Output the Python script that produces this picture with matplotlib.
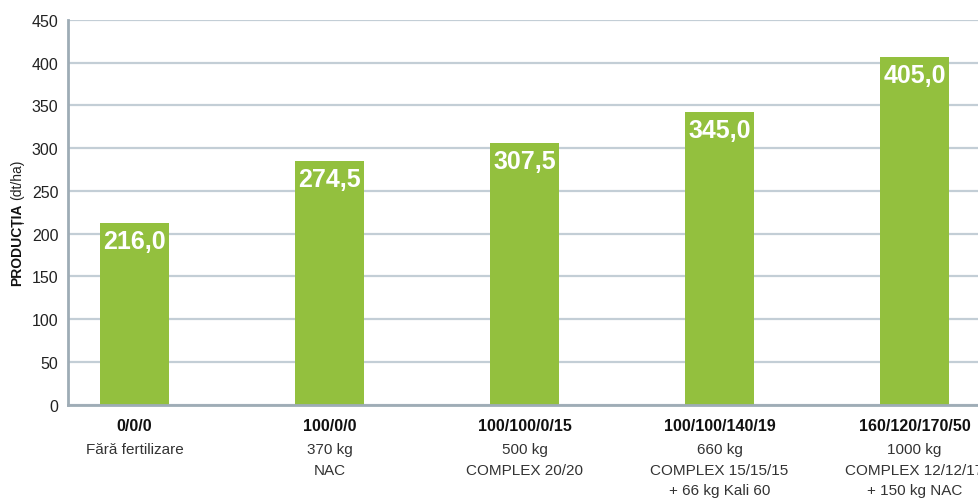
import matplotlib
matplotlib.use('Agg')
from matplotlib import pyplot as plt
from matplotlib import transforms

# data
formulas = ['0/0/0', '100/0/0', '100/100/0/15', '100/100/140/19', '160/120/170/50']
details = ['Fără fertilizare',
           '370 kg\nNAC',
           '500 kg\nCOMPLEX 20/20',
           '660 kg\nCOMPLEX 15/15/15\n+ 66 kg Kali 60',
           '1000 kg\nCOMPLEX 12/12/17\n+ 150 kg NAC']
heights = [212.5, 285.0, 306.0, 342.0, 406.5]   # bar tops as drawn
labels = ['216,0', '274,5', '307,5', '345,0', '405,0']  # printed values
yticks = [0, 50, 100, 150, 200, 250, 300, 350, 400, 450]

green = '#93c03e'
grid_col = '#c3ced6'
axis_col = '#9eacb6'

plt.rcParams['font.family'] = ['Liberation Sans', 'DejaVu Sans']

fig = plt.figure(figsize=(9.79, 5.02), dpi=100)
ax = fig.add_axes([0.0695, 0.1918, 0.9305, 0.7664])

x = list(range(len(heights)))
ax.bar(x, heights, width=0.354, color=green, zorder=3)

ax.set_xlim(-0.341, 4.331)
ax.set_ylim(0, 450)
ax.set_yticks(yticks)
ax.set_yticklabels([str(t) for t in yticks], fontsize=11.5, color='#222222')
ax.tick_params(axis='y', length=0, pad=7)
ax.set_xticks([])
ax.yaxis.grid(True, color=grid_col, linewidth=1.6, zorder=0)
ax.set_axisbelow(True)

for s in ['top', 'right']:
    ax.spines[s].set_visible(False)
ax.spines['left'].set_color(axis_col)
ax.spines['left'].set_linewidth(2)
ax.spines['bottom'].set_color(axis_col)
ax.spines['bottom'].set_linewidth(2)
ax.spines['bottom'].set_zorder(4)

# value labels inside the bars
for xi, h, lab in zip(x, heights, labels):
    ax.annotate(lab, (xi, h), xytext=(0, -4), textcoords='offset points',
                ha='center', va='top', color='white', fontsize=18,
                fontweight='bold', zorder=5)

# category labels below the axis
trans = transforms.blended_transform_factory(ax.transData, ax.transAxes)
for xi, f, d in zip(x, formulas, details):
    ax.text(xi, -0.035, f, transform=trans, ha='center', va='top',
            fontsize=11.5, fontweight='bold', color='#111111')
    ax.text(xi, -0.097, d, transform=trans, ha='center', va='top',
            fontsize=11, color='#333333', linespacing=1.6)

# y axis title: bold part + normal part right after it
t1 = fig.text(0.017, 0.43, 'PRODUCȚIA', rotation=90, ha='center', va='bottom',
              fontsize=10, fontweight='bold', color='#111111')
fig.canvas.draw()
bb = t1.get_window_extent()
fig.text(0.017, (bb.y1 + 4) / fig.bbox.height, '(dt/ha)', rotation=90,
         ha='center', va='bottom', fontsize=10, color='#222222')

fig.savefig('out.png', dpi=100)
